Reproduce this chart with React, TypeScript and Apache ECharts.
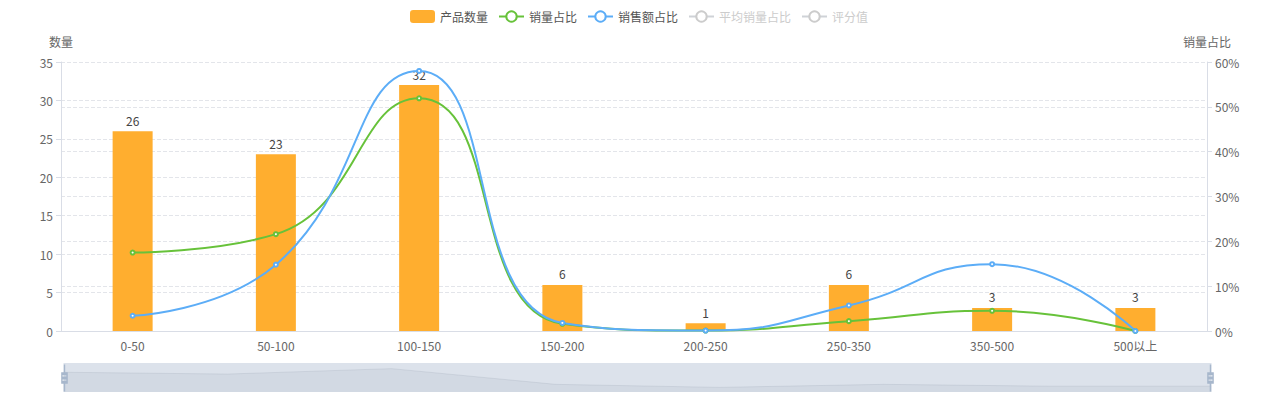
import React, { useEffect, useRef } from "react";
import * as echarts from "echarts";

const categories = ["0-50", "50-100", "100-150", "150-200", "200-250", "250-350", "350-500", "500以上"];
const productCount = [26, 23, 32, 6, 1, 6, 3, 3];
const salesVolumeShare = [17.5, 21.6, 51.9, 1.6, 0.1, 2.2, 4.5, 0];
const salesAmountShare = [3.4, 14.8, 58.0, 1.8, 0.1, 5.7, 14.9, 0];
const avgVolumeShare: number[] = [];
const ratingValue: number[] = [];

const FONT = "'Microsoft YaHei', 'Noto Sans CJK SC', sans-serif";

export default function App() {
  const ref = useRef<HTMLDivElement>(null);
  useEffect(() => {
    if (!ref.current) return;
    const chart = echarts.init(ref.current, undefined, { renderer: "svg" });
    const lineSeries = (name: string, data: number[], color: string) => ({
      name,
      type: "line",
      yAxisIndex: 1,
      smooth: true,
      data,
      symbol: "emptyCircle",
      symbolSize: 4,
      itemStyle: { color },
      lineStyle: { width: 2, color },
    });
    chart.setOption({
      animation: false,
      textStyle: { fontFamily: FONT },
      legend: {
        top: 5,
        left: "center",
        itemWidth: 25,
        itemHeight: 13,
        itemGap: 10,
        textStyle: { color: "#555", fontSize: 12, fontFamily: FONT },
        inactiveColor: "#ccc",
        data: [
          { name: "产品数量", icon: "roundRect" },
          "销量占比",
          "销售额占比",
          "平均销量占比",
          "评分值",
        ],
        selected: { 平均销量占比: false, 评分值: false },
      },
      grid: { left: 61, right: 71, top: 62, bottom: 69 },
      xAxis: {
        type: "category",
        data: categories,
        axisLine: { lineStyle: { color: "#d9dde6" } },
        axisTick: { lineStyle: { color: "#d9dde6" } },
        axisLabel: { color: "#666", fontSize: 12, margin: 8 },
      },
      yAxis: [
        {
          type: "value",
          name: "数量",
          min: 0,
          max: 35,
          interval: 5,
          nameTextStyle: { color: "#666", fontSize: 12 },
          axisLine: { show: true, lineStyle: { color: "#d9dde6" } },
          axisTick: { show: true, lineStyle: { color: "#d9dde6" } },
          axisLabel: { color: "#666", fontSize: 12 },
          splitLine: { lineStyle: { type: "dashed", color: "#e3e5ea" } },
        },
        {
          type: "value",
          name: "销量占比",
          min: 0,
          max: 60,
          interval: 10,
          nameTextStyle: { color: "#666", fontSize: 12 },
          axisLine: { show: true, lineStyle: { color: "#d9dde6" } },
          axisTick: { show: true, lineStyle: { color: "#d9dde6" } },
          axisLabel: { color: "#666", fontSize: 12, formatter: "{value}%" },
          splitLine: { lineStyle: { type: "dashed", color: "#e3e5ea" } },
        },
      ],
      dataZoom: [
        {
          type: "slider",
          xAxisIndex: 0,
          start: 0,
          end: 100,
          left: 61,
          right: 69,
          bottom: 7,
          height: 30,
          showDetail: false,
          brushSelect: false,
          moveHandleSize: 0,
          borderColor: "transparent",
          backgroundColor: "rgba(47,69,84,0)",
          fillerColor: "rgba(167,183,204,0.4)",
          handleIcon:
            "path://M8.2,13.6V3.9H6.3v9.7H3.1v14.9h3.3v9.7h1.8v-9.7h3.3V13.6H8.2z M9.7,24.4H4.8v-1.4h4.9V24.4z M9.7,19.1H4.8v-1.4h4.9V19.1z",
          handleSize: "90%",
          handleStyle: { color: "#a7b7cc", borderColor: "#a7b7cc", borderWidth: 0 },
          dataBackground: {
            lineStyle: { color: "rgba(47,69,84,0.12)", width: 1 },
            areaStyle: { color: "rgba(47,69,84,0.08)" },
          },
          selectedDataBackground: {
            lineStyle: { color: "rgba(47,69,84,0.12)", width: 1 },
            areaStyle: { color: "rgba(47,69,84,0.08)", opacity: 1 },
          },
        },
      ],
      series: [
        {
          name: "产品数量",
          type: "bar",
          data: productCount,
          barWidth: 40,
          itemStyle: { color: "#ffae2f" },
          label: { show: true, position: "top", color: "#444", fontSize: 12 },
        },
        lineSeries("销量占比", salesVolumeShare, "#67c23a"),
        lineSeries("销售额占比", salesAmountShare, "#5cadf7"),
        lineSeries("平均销量占比", avgVolumeShare, "#e6a23c"),
        lineSeries("评分值", ratingValue, "#909399"),
      ],
    });
    return () => chart.dispose();
  }, []);
  return <div ref={ref} style={{ width: 1278, height: 400, margin: -8 }} />;
}
